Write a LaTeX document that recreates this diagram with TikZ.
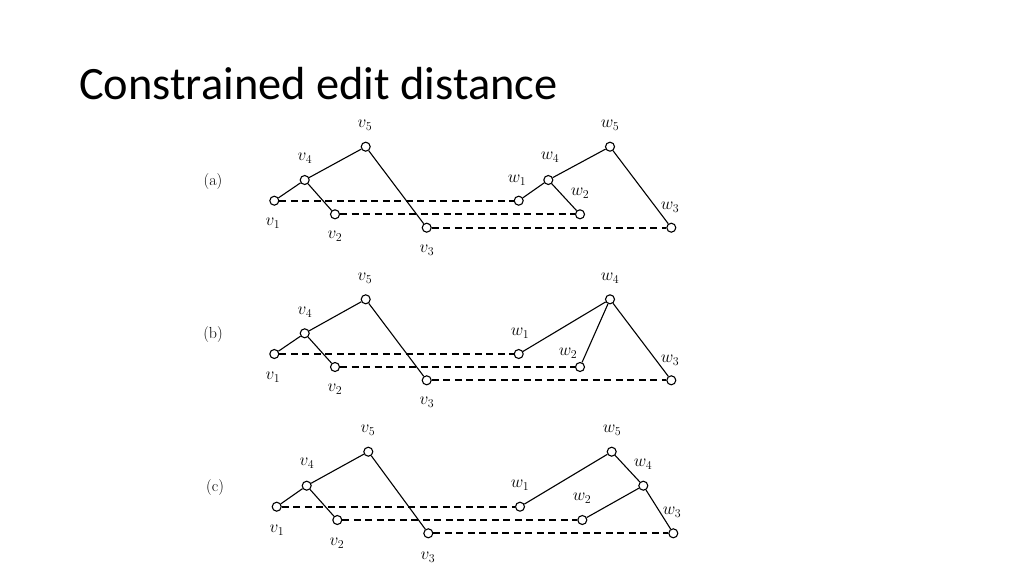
\documentclass[tikz,border=0pt]{standalone}
\usepackage{fontspec}
\newfontfamily\titlefont{Carlito}
\tikzset{
  vtx/.style={circle, draw, fill=white, line width=1.1pt, inner sep=0pt, minimum size=9pt},
  edge/.style={line width=1.1pt},
  match/.style={line width=1.8pt, dash pattern=on 7pt off 4.5pt},
  lbl/.style={inner sep=0pt, font=\fontsize{17}{20}\selectfont},
  tag/.style={inner sep=0pt, font=\fontsize{16}{19}\selectfont}
}
\begin{document}
\begin{tikzpicture}[x=1pt, y=-1pt]
        \fill [white] (0,0) rectangle (1024,576);%
        \useasboundingbox (0,0) rectangle (1024,576);%
        
        % Title
        \node (title) [anchor=base west, inner sep=0pt, font=\titlefont\fontsize{46.4}{54}\selectfont] at (79,99.5) {Constrained edit distance};%
        
        % Panel (a): vertices
        \node (tagA) [tag] at (213,182) {(a)};%
        \node (av1) [vtx] at (274.3,200.7) {};%
        \node (av4) [vtx] at (304.7,180) {};%
        \node (av5) [vtx] at (365.7,146.7) {};%
        \node (av2) [vtx] at (335,214.3) {};%
        \node (av3) [vtx] at (426.7,227.7) {};%
        \node (aw1) [vtx] at (518.7,200.7) {};%
        \node (aw4) [vtx] at (548.3,180) {};%
        \node (aw5) [vtx] at (610,146.7) {};%
        \node (aw2) [vtx] at (580,214.3) {};%
        \node (aw3) [vtx] at (671.3,227.7) {};%
        
        % Panel (a): labels
        \node (lav5) [lbl] at (365,125) {$v_5$};%
        \node (lav4) [lbl] at (305,158) {$v_4$};%
        \node (lav1) [lbl] at (273,223) {$v_1$};%
        \node (lav2) [lbl] at (335,236) {$v_2$};%
        \node (lav3) [lbl] at (427,250) {$v_3$};%
        \node (law1) [lbl] at (517,180) {$w_1$};%
        \node (law4) [lbl] at (550,157) {$w_4$};%
        \node (law2) [lbl] at (580,193) {$w_2$};%
        \node (law3) [lbl] at (670,207) {$w_3$};%
        \node (law5) [lbl] at (610,125) {$w_5$};%
        
        % Panel (a): edges
        \draw [match] (av1) -- (aw1);%
        \draw [match] (av2) -- (aw2);%
        \draw [match] (av3) -- (aw3);%
        \draw [edge] (av1) -- (av4) -- (av5) -- (av3);%
        \draw [edge] (av4) -- (av2);%
        \draw [edge] (aw1) -- (aw4) -- (aw5) -- (aw3);%
        \draw [edge] (aw4) -- (aw2);%
        
        % Panel (b): vertices
        \node (tagB) [tag] at (213,334) {(b)};%
        \node (bv1) [vtx] at (274.3,354) {};%
        \node (bv4) [vtx] at (304.7,333.3) {};%
        \node (bv5) [vtx] at (365.7,299.3) {};%
        \node (bv2) [vtx] at (335,367) {};%
        \node (bv3) [vtx] at (426.7,380.3) {};%
        \node (bw1) [vtx] at (518.7,354) {};%
        \node (bw4) [vtx] at (610,299.3) {};%
        \node (bw2) [vtx] at (580,367) {};%
        \node (bw3) [vtx] at (671.3,380.3) {};%
        
        % Panel (b): labels
        \node (lbv5) [lbl] at (365,278) {$v_5$};%
        \node (lbv4) [lbl] at (305,312) {$v_4$};%
        \node (lbv1) [lbl] at (273,377) {$v_1$};%
        \node (lbv2) [lbl] at (335,389) {$v_2$};%
        \node (lbv3) [lbl] at (427,402) {$v_3$};%
        \node (lbw1) [lbl] at (520,333) {$w_1$};%
        \node (lbw2) [lbl] at (568,353) {$w_2$};%
        \node (lbw3) [lbl] at (670,360) {$w_3$};%
        \node (lbw4) [lbl] at (610,278) {$w_4$};%
        
        % Panel (b): edges
        \draw [match] (bv1) -- (bw1);%
        \draw [match] (bv2) -- (bw2);%
        \draw [match] (bv3) -- (bw3);%
        \draw [edge] (bv1) -- (bv4) -- (bv5) -- (bv3);%
        \draw [edge] (bv4) -- (bv2);%
        \draw [edge] (bw1) -- (bw4) -- (bw3);%
        \draw [edge] (bw4) -- (bw2);%
        
        % Panel (c): vertices
        \node (tagC) [tag] at (215,487) {(c)};%
        \node (cv1) [vtx] at (276.7,506.7) {};%
        \node (cv4) [vtx] at (306.7,485.7) {};%
        \node (cv5) [vtx] at (368.3,451.7) {};%
        \node (cv2) [vtx] at (337.3,520) {};%
        \node (cv3) [vtx] at (428.3,533.3) {};%
        \node (cw1) [vtx] at (520,506.7) {};%
        \node (cw5) [vtx] at (611.7,451.7) {};%
        \node (cw4) [vtx] at (643.3,485.7) {};%
        \node (cw2) [vtx] at (582.3,520) {};%
        \node (cw3) [vtx] at (673.3,533.3) {};%
        
        % Panel (c): labels
        \node (lcv5) [lbl] at (368,430) {$v_5$};%
        \node (lcv4) [lbl] at (307,463) {$v_4$};%
        \node (lcv1) [lbl] at (277,530) {$v_1$};%
        \node (lcv2) [lbl] at (337,543) {$v_2$};%
        \node (lcv3) [lbl] at (428,557) {$v_3$};%
        \node (lcw1) [lbl] at (520,485) {$w_1$};%
        \node (lcw2) [lbl] at (582,498) {$w_2$};%
        \node (lcw5) [lbl] at (612,430) {$w_5$};%
        \node (lcw4) [lbl] at (643,464) {$w_4$};%
        \node (lcw3) [lbl] at (672,512) {$w_3$};%
        
        % Panel (c): edges
        \draw [match] (cv1) -- (cw1);%
        \draw [match] (cv2) -- (cw2);%
        \draw [match] (cv3) -- (cw3);%
        \draw [edge] (cv1) -- (cv4) -- (cv5) -- (cv3);%
        \draw [edge] (cv4) -- (cv2);%
        \draw [edge] (cw1) -- (cw5) -- (cw4) -- (cw3);%
        \draw [edge] (cw4) -- (cw2);%
\end{tikzpicture}
\end{document}
